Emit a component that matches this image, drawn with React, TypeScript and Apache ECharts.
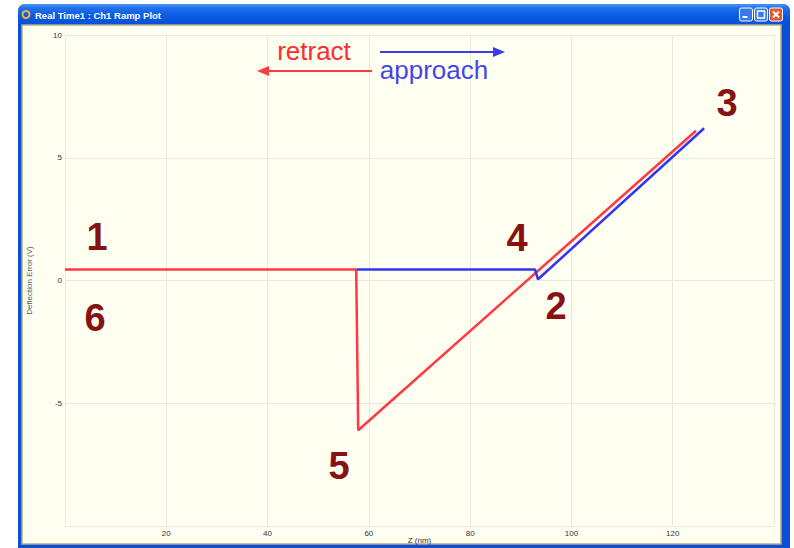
import React, { useEffect, useRef } from "react";
import * as echarts from "echarts";

// Force curve: Z piezo position (nm) vs. cantilever deflection error (V)
const retractZ = [124.6, 57.9, 57.5, 0];
const retractDefl = [6.1, -6.1, 0.45, 0.45];
const approachZ = [57.6, 92.8, 93.4, 126.2];
const approachDefl = [0.45, 0.45, 0.05, 6.2];

const xTicksShown = [20, 40, 60, 80, 100, 120];
const yTicksShown = [-5, 0, 5, 10];

// Stage labels along the ramp
const stageLabels = ["1", "6", "4", "2", "3", "5"];
const stagePos: [number, number][] = [
  [97, 237],
  [95, 318],
  [517, 238],
  [556, 306],
  [727, 103],
  [339, 466],
];

const pair = (xs: number[], ys: number[]) => xs.map((x, i) => [x, ys[i]]);

const FONT = "'Liberation Sans', Arial, sans-serif";

function windowChrome(): any[] {
  const els: any[] = [];
  // outer blue frame
  els.push({
    type: "rect",
    z: -20,
    shape: { x: 18, y: 4, width: 772, height: 550, r: [7, 7, 0, 0] },
    style: { fill: "#0B4FD4" },
  });
  // title bar
  els.push({
    type: "rect",
    z: -19,
    shape: { x: 18, y: 4, width: 772, height: 21, r: [7, 7, 0, 0] },
    style: {
      fill: new echarts.graphic.LinearGradient(0, 0, 0, 1, [
        { offset: 0, color: "#4A97F6" },
        { offset: 0.18, color: "#2470EC" },
        { offset: 0.55, color: "#0A5CE2" },
        { offset: 1, color: "#0650D8" },
      ]),
    },
  });
  // client area
  els.push({
    type: "rect",
    z: -18,
    shape: { x: 22, y: 25, width: 759, height: 519 },
    style: { fill: "#FEFEF1", stroke: "#B9AB7E", lineWidth: 1.5 },
  });
  // window icon
  els.push({
    type: "circle",
    z: -17,
    shape: { cx: 26, cy: 14.5, r: 3.5 },
    style: { fill: "none", stroke: "#F2B233", lineWidth: 2 },
  });
  els.push({
    type: "text",
    z: -17,
    style: {
      text: "Real Time1 : Ch1 Ramp Plot",
      x: 35,
      y: 15,
      fill: "#FFFFFF",
      font: `bold 9.5px ${FONT}`,
      textVerticalAlign: "middle",
      verticalAlign: "middle",
    },
  });
  // caption buttons
  const btn = (x: number, fill: string) => ({
    type: "rect",
    z: -17,
    shape: { x, y: 8, width: 13, height: 13, r: 2 },
    style: { fill, stroke: "#FFFFFF", lineWidth: 1 },
  });
  els.push(btn(739.5, "#3B78EE"));
  els.push(btn(754.5, "#3B78EE"));
  els.push(btn(769.5, "#E2572F"));
  els.push({
    type: "rect",
    z: -16,
    shape: { x: 742.5, y: 16, width: 5, height: 2 },
    style: { fill: "#FFFFFF" },
  });
  els.push({
    type: "rect",
    z: -16,
    shape: { x: 757.5, y: 11, width: 7, height: 7 },
    style: { fill: "none", stroke: "#FFFFFF", lineWidth: 1.5 },
  });
  els.push({
    type: "line",
    z: -16,
    shape: { x1: 773, y1: 11.5, x2: 779, y2: 17.5 },
    style: { stroke: "#FFFFFF", lineWidth: 2 },
  });
  els.push({
    type: "line",
    z: -16,
    shape: { x1: 779, y1: 11.5, x2: 773, y2: 17.5 },
    style: { stroke: "#FFFFFF", lineWidth: 2 },
  });
  return els;
}

function annotations(): any[] {
  const els: any[] = [];
  const red = "#FF2A2A";
  const blue = "#3B3BE8";
  els.push({
    type: "text",
    z: 10,
    style: {
      text: "retract",
      x: 314,
      y: 51,
      fill: red,
      font: `26px ${FONT}`,
      textAlign: "center",
      align: "center",
      textVerticalAlign: "middle",
      verticalAlign: "middle",
    },
  });
  els.push({
    type: "text",
    z: 10,
    style: {
      text: "approach",
      x: 434,
      y: 70,
      fill: "#4646E6",
      font: `26px ${FONT}`,
      textAlign: "center",
      align: "center",
      textVerticalAlign: "middle",
      verticalAlign: "middle",
    },
  });
  // approach arrow (pointing right)
  els.push({
    type: "line",
    z: 10,
    shape: { x1: 380, y1: 52, x2: 496, y2: 52 },
    style: { stroke: blue, lineWidth: 2 },
  });
  els.push({
    type: "polygon",
    z: 10,
    shape: { points: [[493, 47], [505, 52], [493, 57]] },
    style: { fill: blue },
  });
  // retract arrow (pointing left)
  els.push({
    type: "line",
    z: 10,
    shape: { x1: 372, y1: 71, x2: 265, y2: 71 },
    style: { stroke: "#FF3B3B", lineWidth: 2 },
  });
  els.push({
    type: "polygon",
    z: 10,
    shape: { points: [[269, 66], [257, 71], [269, 76]] },
    style: { fill: "#FF3B3B" },
  });
  stageLabels.forEach((t, i) => {
    els.push({
      type: "text",
      z: 10,
      style: {
        text: t,
        x: stagePos[i][0],
        y: stagePos[i][1],
        fill: "#861212",
        font: `bold 38px ${FONT}`,
        textAlign: "center",
        align: "center",
        textVerticalAlign: "middle",
        verticalAlign: "middle",
      },
    });
  });
  return els;
}

export default function App() {
  const ref = useRef<HTMLDivElement>(null);

  useEffect(() => {
    if (!ref.current) return;
    const chart = echarts.init(ref.current, undefined, { renderer: "svg" });
    const gridColor = "#E9E9DC";
    chart.setOption({
      animation: false,
      backgroundColor: "#FFFFFF",
      grid: {
        left: 65,
        right: 20,
        top: 35,
        bottom: 22,
        outerBoundsMode: "none",
        containLabel: false,
      },
      xAxis: {
        type: "value",
        min: 0,
        max: 140,
        interval: 20,
        name: "Z (nm)",
        nameLocation: "middle",
        nameGap: 10,
        nameMoveOverlap: false,
        nameTextStyle: { fontSize: 8, color: "#333", fontFamily: FONT },
        axisLine: { show: false },
        axisTick: { show: false },
        axisLabel: {
          fontSize: 8,
          color: "#333",
          fontFamily: FONT,
          margin: 3,
          formatter: (v: number) => (xTicksShown.includes(v) ? String(v) : ""),
        },
        splitLine: { show: true, lineStyle: { color: gridColor, width: 1 } },
      },
      yAxis: {
        type: "value",
        min: -10,
        max: 10,
        interval: 5,
        name: "Deflection Error (V)",
        nameLocation: "middle",
        nameRotate: 90,
        nameGap: 32,
        nameMoveOverlap: false,
        nameTextStyle: { fontSize: 8, color: "#555", fontFamily: FONT },
        axisLine: { show: false },
        axisTick: { show: false },
        axisLabel: {
          fontSize: 8,
          color: "#333",
          fontFamily: FONT,
          margin: 3,
          formatter: (v: number) => (yTicksShown.includes(v) ? String(v) : ""),
        },
        splitLine: { show: true, lineStyle: { color: gridColor, width: 1 } },
      },
      graphic: { elements: [...windowChrome(), ...annotations()] },
      series: [
        {
          name: "retract",
          type: "line",
          data: pair(retractZ, retractDefl),
          showSymbol: false,
          symbol: "none",
          lineStyle: { color: "#FF3844", width: 2.5 },
          z: 3,
        },
        {
          name: "approach",
          type: "line",
          data: pair(approachZ, approachDefl),
          showSymbol: false,
          symbol: "none",
          lineStyle: { color: "#3434F2", width: 2.5 },
          z: 4,
        },
      ],
    });
    return () => chart.dispose();
  }, []);

  return (
    <div
      ref={ref}
      style={{ position: "fixed", left: 0, top: 0, width: 794, height: 548 }}
    />
  );
}
